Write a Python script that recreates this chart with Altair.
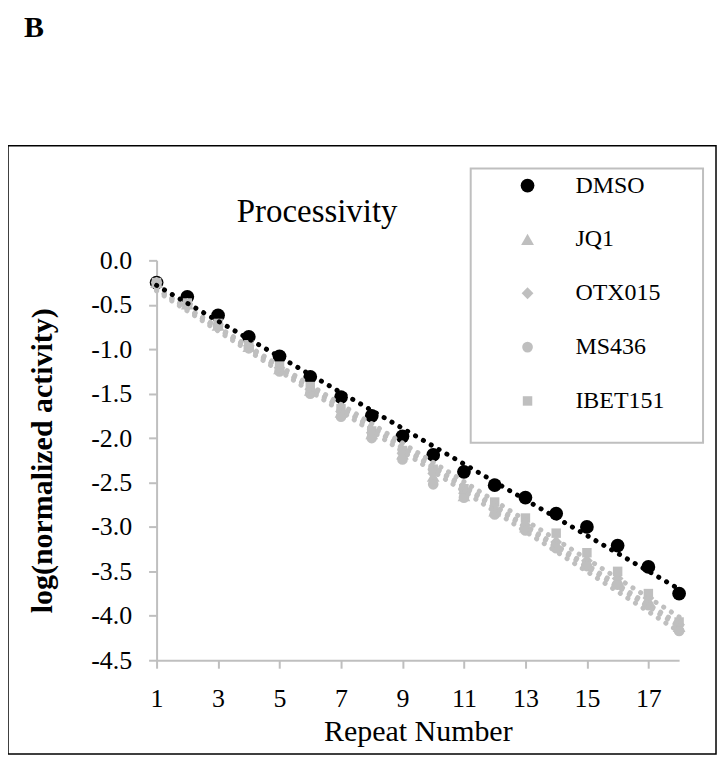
import altair as alt
import pandas as pd

repeats = list(range(1, 19))
series_names = ["DMSO", "JQ1", "OTX015", "MS436", "IBET151"]
dmso = [-0.25, -0.41, -0.62, -0.86, -1.08, -1.31, -1.54, -1.75, -1.98, -2.19, -2.38, -2.53, -2.67, -2.85, -3.00, -3.21, -3.45, -3.75]
jq1 = [-0.25, -0.49, -0.73, -0.97, -1.22, -1.46, -1.71, -1.95, -2.18, -2.43, -2.65, -2.82, -3.00, -3.20, -3.40, -3.60, -3.83, -4.12]
otx015 = [-0.25, -0.49, -0.72, -0.96, -1.21, -1.45, -1.70, -1.94, -2.17, -2.40, -2.62, -2.80, -2.98, -3.17, -3.38, -3.58, -3.80, -4.10]
ms436 = [-0.25, -0.50, -0.74, -0.99, -1.25, -1.50, -1.76, -2.00, -2.24, -2.52, -2.67, -2.86, -3.04, -3.24, -3.44, -3.65, -3.88, -4.17]
ibet151 = [-0.25, -0.48, -0.71, -0.95, -1.19, -1.42, -1.67, -1.92, -2.14, -2.35, -2.57, -2.72, -2.90, -3.07, -3.29, -3.50, -3.75, -4.07]
y_ticks = [0.0, -0.5, -1.0, -1.5, -2.0, -2.5, -3.0, -3.5, -4.0, -4.5]

values = {"DMSO": dmso, "JQ1": jq1, "OTX015": otx015, "MS436": ms436, "IBET151": ibet151}
rows = []
for s in series_names:
    for r, v in zip(repeats, values[s]):
        rows.append({"series": s, "repeat": r, "value": v})
df = pd.DataFrame(rows)

FONT = "Liberation Serif"
GRAY = "#bfbfbf"

x_enc = alt.X("repeat:Q",
              scale=alt.Scale(domain=[1, 18], nice=False, zero=False),
              axis=alt.Axis(values=repeats, labelExpr="datum.value % 2 == 1 ? datum.label : ''",
                            title="Repeat Number", grid=False, tickSize=8, labelPadding=17,
                            titlePadding=6, labelFlush=False, titleFontSize=30))
y_enc = alt.Y("value:Q",
              scale=alt.Scale(domain=[-4.5, 0], nice=False, zero=False),
              axis=alt.Axis(values=y_ticks,
                            labelExpr="(datum.value < 0 ? '-' : '') + format(abs(datum.value), '.1f')",
                            title="log(normalized activity)",
                            grid=False, tickSize=8, labelPadding=17, titleFontWeight="bold",
                            titleFontSize=30, titlePadding=33))

legend = alt.Legend(title=None, orient="none", legendX=360, legendY=-87,
                    labelFont=FONT, labelFontSize=24, labelColor="black",
                    rowPadding=30, labelOffset=36, padding=0, symbolStrokeWidth=0,
                    symbolOpacity=1)

color_scale = alt.Scale(domain=series_names, range=["black", GRAY, GRAY, GRAY, GRAY])
shape_scale = alt.Scale(domain=series_names, range=["circle", "triangle-up", "diamond", "circle", "square"])
size_scale = alt.Scale(domain=series_names, range=[190, 90, 70, 190, 180])

points = alt.Chart(df).mark_point(filled=True, opacity=1).encode(
    x=x_enc, y=y_enc,
    color=alt.Color("series:N", scale=color_scale, legend=legend, sort=series_names),
    shape=alt.Shape("series:N", scale=shape_scale, legend=legend, sort=series_names),
    size=alt.Size("series:N", scale=size_scale, legend=legend, sort=series_names),
)

gray_trend = alt.Chart(df).transform_filter("datum.series != 'DMSO'").transform_regression(
    "repeat", "value", groupby=["series"]
).mark_line(strokeDash=[0.1, 9], strokeCap="round", strokeWidth=5, color=GRAY).encode(
    x="repeat:Q", y="value:Q", detail="series:N")

black_trend = alt.Chart(df).transform_filter("datum.series == 'DMSO'").transform_regression(
    "repeat", "value"
).mark_line(strokeDash=[0.1, 9], strokeCap="round", strokeWidth=5, color="black").encode(
    x="repeat:Q", y="value:Q")

one = pd.DataFrame({"t": ["B"]})
panel_label = alt.Chart(one).mark_text(font=FONT, fontSize=30, fontWeight="bold", align="left",
                                       baseline="middle", color="black").encode(
    text="t:N", x=alt.value(-133), y=alt.value(-233))

title_df = pd.DataFrame({"t": ["Processivity"]})
title = alt.Chart(title_df).mark_text(font=FONT, fontSize=33, align="center", baseline="middle",
                                      color="black").encode(
    text="t:N", x=alt.value(161), y=alt.value(-48))

outer = alt.Chart(one).mark_rect(fill="white", fillOpacity=0, stroke="black", strokeWidth=1.5).encode(
    x=alt.value(-149), x2=alt.value(561), y=alt.value(-115), y2=alt.value(495))

legend_box = alt.Chart(one).mark_rect(fill="white", fillOpacity=0, stroke=GRAY, strokeWidth=2).encode(
    x=alt.value(315), x2=alt.value(548), y=alt.value(-92), y2=alt.value(183))

chart = alt.layer(outer, legend_box, points, gray_trend, black_trend, panel_label, title).properties(
    width=524, height=401,
    autosize=alt.AutoSizeParams(type="none"),
    padding={"left": 149, "top": 252, "right": 40, "bottom": 98},
).configure_view(stroke=None).configure_axis(
    labelFont=FONT, labelFontSize=26, labelColor="black",
    titleFont=FONT, titleColor="black", titleFontWeight="normal",
    domainColor=GRAY, domainWidth=2, tickColor=GRAY, tickWidth=2,
)

chart.save("out.html", embed_options={"renderer": "svg", "actions": False})
